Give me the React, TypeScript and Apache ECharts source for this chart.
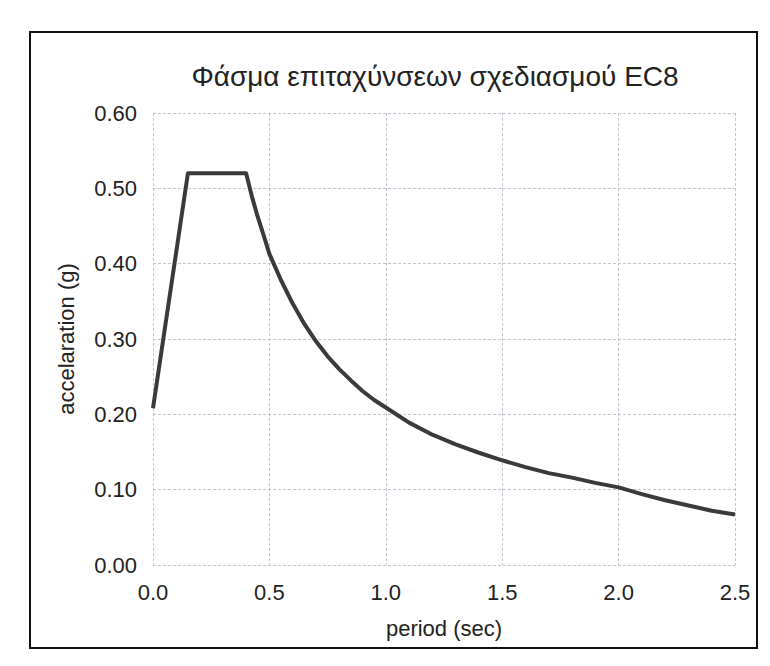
import React, { useEffect, useRef } from "react";
import * as echarts from "echarts";

const chartTitle = "Φάσμα επιταχύνσεων σχεδιασμού EC8";
const xAxisTitle = "period (sec)";
const yAxisTitle = "accelaration (g)";

const xTickLabels = ["0.0", "0.5", "1.0", "1.5", "2.0", "2.5"];
const yTickLabels = ["0.00", "0.10", "0.20", "0.30", "0.40", "0.50", "0.60"];

const periods = [
  0, 0.15, 0.4, 0.425, 0.45, 0.475, 0.5, 0.55, 0.6, 0.65, 0.7, 0.75, 0.8,
  0.85, 0.9, 0.95, 1.0, 1.1, 1.2, 1.3, 1.4, 1.5, 1.6, 1.7, 1.8, 1.9, 2.0, 2.1,
  2.2, 2.3, 2.4, 2.5,
];
const accelerations = [
  0.208, 0.52, 0.52, 0.489, 0.462, 0.438, 0.413, 0.378, 0.347, 0.32, 0.297,
  0.277, 0.26, 0.245, 0.231, 0.219, 0.209, 0.189, 0.173, 0.16, 0.149, 0.139,
  0.13, 0.122, 0.116, 0.109, 0.103, 0.094, 0.086, 0.079, 0.072, 0.067,
];

const FONT = "'Liberation Sans', Arial, sans-serif";
const TEXT = "#222222";

export default function App() {
  const ref = useRef<HTMLDivElement>(null);

  useEffect(() => {
    if (!ref.current) return;
    const chart = echarts.init(ref.current, undefined, { renderer: "svg" });
    const data = periods.map((p, i) => [p, accelerations[i]]);
    chart.setOption({
      animation: false,
      backgroundColor: "#ffffff",
      textStyle: { fontFamily: FONT, color: TEXT },
      title: {
        text: chartTitle,
        left: 430,
        top: 57,
        textAlign: "center",
        textStyle: {
          fontFamily: FONT,
          fontSize: 28,
          fontWeight: "normal",
          color: TEXT,
        },
      },
      graphic: [
        {
          type: "rect",
          shape: { x: 30, y: 32, width: 727, height: 616 },
          style: { fill: "none", stroke: "#111111", lineWidth: 2 },
          silent: true,
        },
      ],
      grid: { left: 153, top: 113, width: 582, height: 452 },
      xAxis: {
        type: "value",
        min: 0,
        max: 2.5,
        interval: 0.5,
        name: xAxisTitle,
        nameLocation: "middle",
        nameGap: 52,
        nameTextStyle: { fontFamily: FONT, fontSize: 22, color: TEXT },
        axisLine: { show: false },
        axisTick: { show: false },
        axisLabel: {
          fontFamily: FONT,
          fontSize: 22,
          color: TEXT,
          margin: 16,
          formatter: (v: number) => xTickLabels[Math.round(v / 0.5)] ?? "",
        },
        splitLine: {
          show: true,
          lineStyle: { color: "#c2c5d0", width: 1, type: [3, 2] },
        },
      },
      yAxis: {
        type: "value",
        min: 0,
        max: 0.6,
        interval: 0.1,
        name: yAxisTitle,
        nameLocation: "middle",
        nameRotate: 90,
        nameGap: 76,
        nameTextStyle: { fontFamily: FONT, fontSize: 22, color: TEXT },
        axisLine: { show: false },
        axisTick: { show: false },
        axisLabel: {
          fontFamily: FONT,
          fontSize: 22,
          color: TEXT,
          margin: 16,
          formatter: (v: number) => yTickLabels[Math.round(v / 0.1)] ?? "",
        },
        splitLine: {
          show: true,
          lineStyle: { color: "#c2c5d0", width: 1, type: [3, 2] },
        },
      },
      series: [
        {
          type: "line",
          data,
          showSymbol: false,
          smooth: false,
          lineStyle: { color: "#3a3a3a", width: 4, join: "round" },
          itemStyle: { color: "#3a3a3a" },
        },
      ],
    });
    return () => chart.dispose();
  }, []);

  return (
    <div
      ref={ref}
      style={{ position: "absolute", left: 0, top: 0, width: 770, height: 666 }}
    />
  );
}
